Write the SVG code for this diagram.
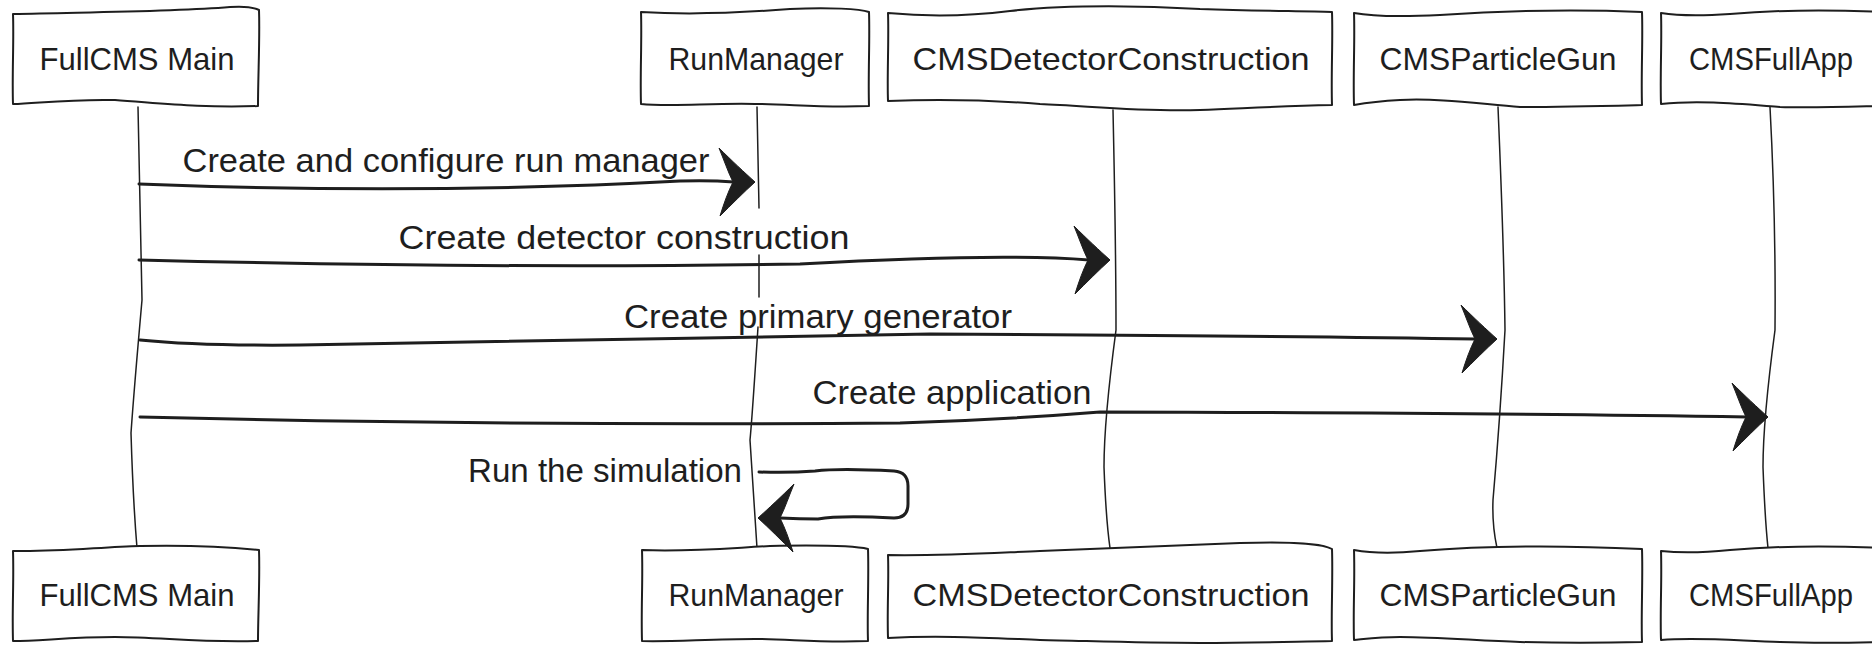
<svg xmlns="http://www.w3.org/2000/svg" width="1872" height="645" viewBox="0 0 1872 645">
<style>
.box{fill:#ffffff;stroke:#1e1e1e;stroke-width:2;stroke-linejoin:round}
.life{fill:none;stroke:#1e1e1e;stroke-width:1.5;stroke-linecap:round}
.msg{fill:none;stroke:#1e1e1e;stroke-width:3;stroke-linecap:round}
.lbl{font-family:"Liberation Sans",Arial,sans-serif;font-size:32px;fill:#1e1e1e;text-anchor:middle}
.mtx{font-family:"Liberation Sans",Arial,sans-serif;font-size:33px;fill:#1e1e1e;text-anchor:middle}
.ah{fill:#1e1e1e;stroke:#1e1e1e;stroke-width:1;stroke-linejoin:round}
</style>
<defs>
<path id="ah" d="M0 0 C -10 -9, -24 -22, -36 -34 C -31 -22, -27 -10, -22 0 C -27 10, -31 21, -35 34 C -24 23, -11 10, 0 0 Z"/>
</defs>
<rect x="0" y="0" width="1872" height="645" fill="#ffffff"/>

<g id="p-fullcms">
<path class="life" d="M138 107 Q 140 220 142 300 Q 134 390 131 433 Q 133 500 137 548"/>
<path class="box" d="M13 14 C 90 12, 170 12, 230 7 C 245 6, 255 8, 259 10 C 260 40, 258 75, 258 106 C 200 108, 160 103, 115 100 C 70 99, 40 103, 13 104 C 12 75, 14 40, 13 14 Z"/>
<text class="lbl" x="137" y="70" textLength="195" lengthAdjust="spacingAndGlyphs">FullCMS Main</text>
<path class="box" d="M13 551 C 60 552, 100 547, 140 546 C 190 545, 230 547, 259 550 C 260 580, 258 615, 258 641 C 200 643, 160 637, 115 637 C 70 637, 40 641, 13 641 C 12 610, 14 580, 13 551 Z"/>
<text class="lbl" x="137" y="606" textLength="195" lengthAdjust="spacingAndGlyphs">FullCMS Main</text>
</g>

<g id="p-runmanager">
<path class="life" d="M757 107 L 759 208"/>
<path class="life" d="M759 255 L 759 297"/>
<path class="life" d="M758 327 Q 752 420 750 440 Q 754 500 757 548"/>
<path class="box" d="M641 12 C 690 15, 740 13, 790 9 C 830 7, 860 9, 869 12 C 870 40, 868 75, 869 106 C 820 108, 790 104, 755 104 C 710 103, 670 107, 641 104 C 640 75, 642 40, 641 12 Z"/>
<text class="lbl" x="756" y="70" textLength="175" lengthAdjust="spacingAndGlyphs">RunManager</text>
<path class="box" d="M642 550 C 690 552, 730 548, 770 546 C 820 545, 855 546, 868 549 C 869 580, 867 615, 868 641 C 820 643, 790 639, 755 639 C 710 639, 670 642, 642 641 C 641 610, 643 580, 642 550 Z"/>
<text class="lbl" x="756" y="606" textLength="175" lengthAdjust="spacingAndGlyphs">RunManager</text>
</g>

<g id="p-detector">
<path class="life" d="M1113 110 Q 1116 250 1116 330 Q 1104 420 1104 467 Q 1106 520 1110 548"/>
<path class="box" d="M888 13 C 930 17, 970 16, 1010 11 C 1070 4, 1150 6, 1200 9 C 1260 11, 1300 11, 1332 12 C 1333 40, 1331 75, 1332 105 C 1280 106, 1250 108, 1200 110 C 1140 112, 1090 106, 1040 104 C 990 100, 940 99, 888 101 C 887 75, 889 40, 888 13 Z"/>
<text class="lbl" x="1111" y="70" textLength="397" lengthAdjust="spacingAndGlyphs">CMSDetectorConstruction</text>
<path class="box" d="M888 555 C 940 556, 990 553, 1040 551 C 1110 548, 1180 545, 1240 543 C 1300 541, 1325 545, 1332 549 C 1333 580, 1331 615, 1332 641 C 1280 642, 1250 643, 1200 643 C 1140 643, 1090 641, 1040 640 C 990 638, 940 635, 888 638 C 887 610, 889 580, 888 555 Z"/>
<text class="lbl" x="1111" y="606" textLength="397" lengthAdjust="spacingAndGlyphs">CMSDetectorConstruction</text>
</g>

<g id="p-particlegun">
<path class="life" d="M1498 107 Q 1504 250 1505 330 Q 1500 420 1493 500 Q 1492 525 1497 548"/>
<path class="box" d="M1354 13 C 1370 16, 1400 17, 1440 15 C 1500 11, 1570 9, 1642 12 C 1643 40, 1641 75, 1642 105 C 1600 106, 1560 107, 1520 107 C 1480 104, 1440 98, 1400 100 C 1380 101, 1365 103, 1354 105 C 1353 75, 1355 40, 1354 13 Z"/>
<text class="lbl" x="1498" y="70" textLength="237" lengthAdjust="spacingAndGlyphs">CMSParticleGun</text>
<path class="box" d="M1354 550 C 1370 553, 1390 554, 1420 551 C 1480 546, 1560 545, 1642 549 C 1643 580, 1641 615, 1642 642 C 1600 643, 1560 643, 1520 642 C 1480 641, 1440 637, 1400 637 C 1380 637, 1365 639, 1354 640 C 1353 610, 1355 580, 1354 550 Z"/>
<text class="lbl" x="1498" y="606" textLength="237" lengthAdjust="spacingAndGlyphs">CMSParticleGun</text>
</g>

<g id="p-fullapp">
<path class="life" d="M1770 107 Q 1776 220 1775 330 Q 1763 420 1763 467 Q 1765 520 1768 548"/>
<path class="box" d="M1661 13 C 1680 16, 1700 16, 1730 14 C 1790 9, 1840 10, 1881 12 L 1881 106 C 1840 107, 1810 108, 1780 107 C 1740 104, 1700 100, 1661 104 C 1660 75, 1662 40, 1661 13 Z"/>
<text class="lbl" x="1771" y="70" textLength="164" lengthAdjust="spacingAndGlyphs">CMSFullApp</text>
<path class="box" d="M1661 551 C 1680 553, 1700 553, 1730 550 C 1790 545, 1840 546, 1881 548 L 1881 642 C 1840 643, 1810 643, 1780 642 C 1740 641, 1700 637, 1661 640 C 1660 610, 1662 580, 1661 551 Z"/>
<text class="lbl" x="1771" y="606" textLength="164" lengthAdjust="spacingAndGlyphs">CMSFullApp</text>
</g>

<g id="connectors">
<path class="msg" d="M139 184 Q 420 195 680 181 Q 710 180 734 182"/>
<use href="#ah" class="ah" transform="translate(755,182)"/>
<text class="mtx" x="446" y="172" textLength="527" lengthAdjust="spacingAndGlyphs">Create and configure run manager</text>

<path class="msg" d="M139 260 Q 500 269 800 264 Q 1000 253 1089 260"/>
<use href="#ah" class="ah" transform="translate(1110,260)"/>
<text class="mtx" x="624" y="249" textLength="451" lengthAdjust="spacingAndGlyphs">Create detector construction</text>

<path class="msg" d="M140 340 Q 200 346 300 345 Q 700 337 930 334 Q 1300 336 1476 339"/>
<use href="#ah" class="ah" transform="translate(1497,339)"/>
<text class="mtx" x="818" y="328" textLength="388" lengthAdjust="spacingAndGlyphs">Create primary generator</text>

<path class="msg" d="M140 417 Q 500 426 900 423 Q 1000 420 1100 412 Q 1500 413 1747 417"/>
<use href="#ah" class="ah" transform="translate(1768,417)"/>
<text class="mtx" x="952" y="404" textLength="279" lengthAdjust="spacingAndGlyphs">Create application</text>

<path class="msg" d="M759 472 Q 790 473 815 471 Q 840 468 894 471 Q 908 472 908 486 L 908 504 Q 908 518 894 518 Q 840 515 818 519 Q 800 519 780 518"/>
<use href="#ah" class="ah" transform="translate(758,518) scale(-1,1)"/>
<text class="mtx" x="605" y="482" textLength="274" lengthAdjust="spacingAndGlyphs">Run the simulation</text>
</g>
</svg>
